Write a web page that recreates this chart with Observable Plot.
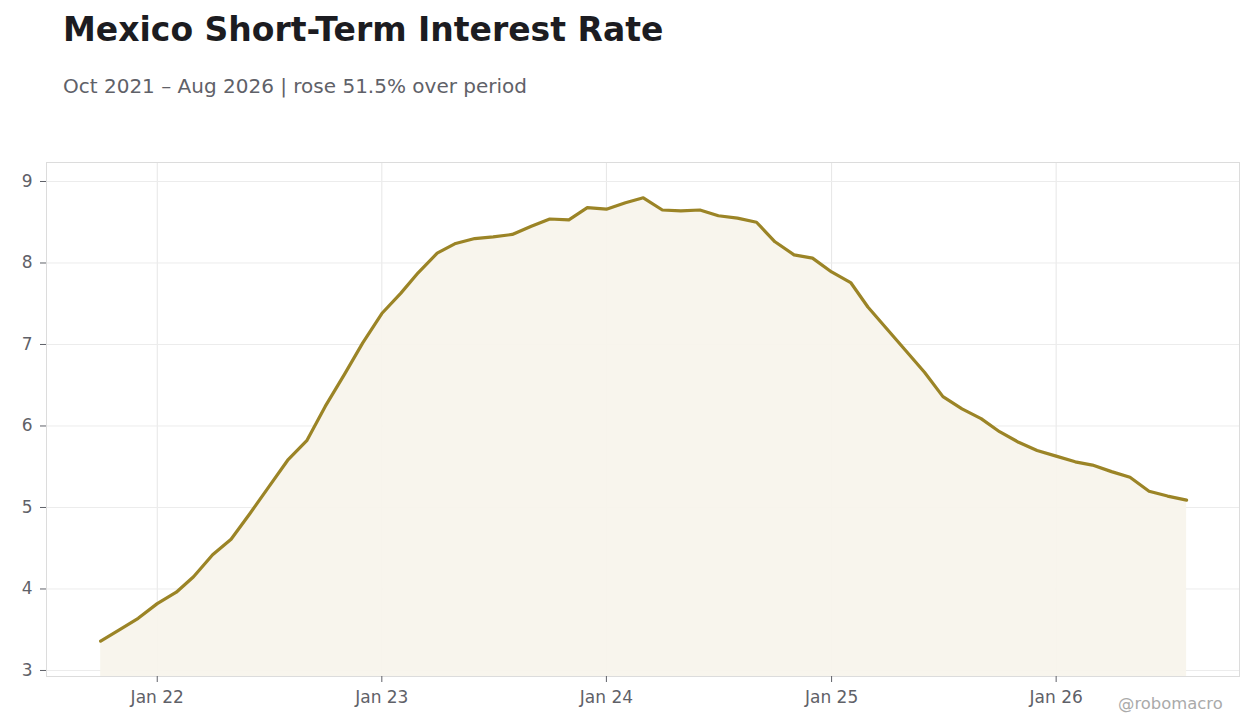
<!DOCTYPE html>
<html>
<head>
<meta charset="utf-8">
<script src="https://cdn.jsdelivr.net/npm/d3@7"></script>
<script src="https://cdn.jsdelivr.net/npm/@observablehq/plot@0.6"></script>
<style>
  html, body { margin: 0; padding: 0; background: #fff; width: 1260px; height: 728px; overflow: hidden; }
  body { position: relative; font-family: "DejaVu Sans", sans-serif; }
  #title { position: absolute; left: 63px; top: 10px; font-size: 33px; font-weight: bold; color: #1c1c21; white-space: nowrap; }
  #subtitle { position: absolute; left: 63px; top: 74px; font-size: 20px; color: #5f6168; white-space: nowrap; }
  #chart { position: absolute; left: 0; top: 130px; }
  #credit { position: absolute; left: 1118px; top: 694px; font-size: 16.4px; color: #aaaaaa; white-space: nowrap; }
</style>
</head>
<body>
<div id="title">Mexico Short-Term Interest Rate</div>
<div id="subtitle">Oct 2021 – Aug 2026 | rose 51.5% over period</div>
<div id="chart"></div>
<div id="credit">@robomacro</div>
<script>
const months = [
  "2021-10","2021-11","2021-12",
  "2022-01","2022-02","2022-03","2022-04","2022-05","2022-06","2022-07","2022-08","2022-09","2022-10","2022-11","2022-12",
  "2023-01","2023-02","2023-03","2023-04","2023-05","2023-06","2023-07","2023-08","2023-09","2023-10","2023-11","2023-12",
  "2024-01","2024-02","2024-03","2024-04","2024-05","2024-06","2024-07","2024-08","2024-09","2024-10","2024-11","2024-12",
  "2025-01","2025-02","2025-03","2025-04","2025-05","2025-06","2025-07","2025-08","2025-09","2025-10","2025-11","2025-12",
  "2026-01","2026-02","2026-03","2026-04","2026-05","2026-06","2026-07","2026-08"
];
const rates = [
  3.36, 3.50, 3.64,
  3.82, 3.96, 4.15, 4.42, 4.61, 4.93, 5.25, 5.58, 5.82, 6.24, 6.63, 7.02,
  7.38, 7.63, 7.88, 8.12, 8.24, 8.30, 8.32, 8.35, 8.45, 8.54, 8.53, 8.68,
  8.66, 8.74, 8.80, 8.65, 8.64, 8.65, 8.58, 8.55, 8.50, 8.26, 8.10, 8.06,
  7.89, 7.76, 7.46, 7.19, 6.93, 6.66, 6.36, 6.21, 6.09, 5.93, 5.80, 5.70,
  5.63, 5.56, 5.52, 5.44, 5.37, 5.20, 5.14, 5.09
];
const yTicks = [3, 4, 5, 6, 7, 8, 9];
const xTickDates = ["2022-01-01","2023-01-01","2024-01-01","2025-01-01","2026-01-01"];
const xTickLabels = ["Jan 22","Jan 23","Jan 24","Jan 25","Jan 26"];

const parse = d3.utcParse("%Y-%m");
const data = months.map((m, i) => ({date: parse(m), value: rates[i]}));
const xTicks = xTickDates.map(d => new Date(d + "T00:00:00Z"));
const yDomain = [2.926, 9.233];
const xDomain = [new Date("2021-07-05T00:00:00Z"), new Date("2026-10-26T00:00:00Z")];
const labelFmt = d => xTickLabels[xTicks.findIndex(t => +t === +d)];

const lineColor = "#9b8426";
const textColor = "#5f6168";

const chart = Plot.plot({
  width: 1260,
  height: 598,
  marginTop: 32,
  marginBottom: 52,
  marginLeft: 46,
  marginRight: 21,
  style: { fontFamily: "DejaVu Sans, sans-serif", fontSize: "16px", color: textColor, background: "#fff" },
  x: { type: "utc", domain: xDomain },
  y: { domain: yDomain },
  marks: [
    Plot.gridX(xTicks, { stroke: "#e6e6e6", strokeOpacity: 1, strokeWidth: 1 }),
    Plot.gridY(yTicks, { stroke: "#ececec", strokeOpacity: 1, strokeWidth: 1 }),
    Plot.areaY(data, { x: "date", y1: yDomain[0], y2: "value", fill: "#f7f4ec", fillOpacity: 0.92 }),
    Plot.lineY(data, { x: "date", y: "value", stroke: lineColor, strokeWidth: 3.2, strokeLinejoin: "round" }),
    Plot.frame({ stroke: "#dcdcdc", strokeWidth: 1 }),
    Plot.axisX(xTicks, { tickSize: 6, tickPadding: 8, tickFormat: labelFmt, stroke: textColor, fill: textColor, fontSize: 17, label: null }),
    Plot.axisY(yTicks, { tickSize: 6, tickPadding: 8, tickFormat: d3.format("d"), stroke: textColor, fill: textColor, fontSize: 17, label: null })
  ]
});
document.getElementById("chart").appendChild(chart);
</script>
</body>
</html>
